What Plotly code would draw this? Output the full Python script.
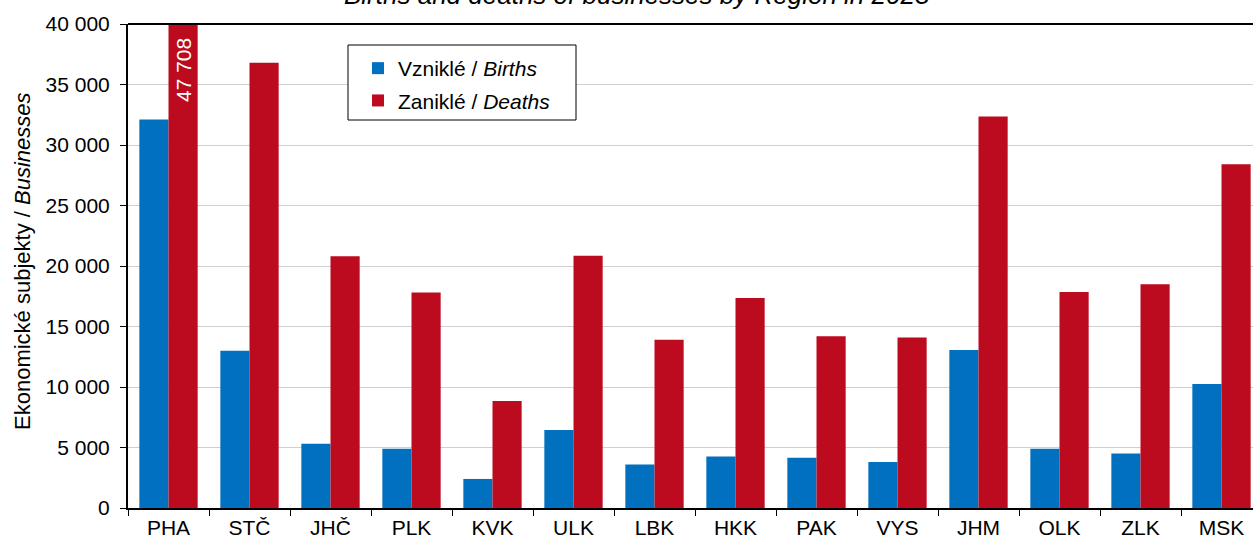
import plotly.graph_objects as go

regions = ["PHA", "STČ", "JHČ", "PLK", "KVK", "ULK", "LBK", "HKK", "PAK", "VYS", "JHM", "OLK", "ZLK", "MSK"]
births = [32100, 13000, 5300, 4900, 2400, 6450, 3600, 4250, 4150, 3800, 13050, 4900, 4500, 10250]
deaths = [47708, 36800, 20800, 17800, 8850, 20850, 13900, 17350, 14200, 14100, 32350, 17850, 18500, 28400]
y_ticks = [0, 5000, 10000, 15000, 20000, 25000, 30000, 35000, 40000]

FONT = "Liberation Sans, Arial, sans-serif"
BLUE = "#0070bf"
RED = "#bc0a1e"

fig = go.Figure()
fig.add_trace(go.Bar(x=regions, y=births, name="Vzniklé / <i>Births</i>", legendgroup="b",
                     marker=dict(color=BLUE, line=dict(width=0))))
fig.add_trace(go.Bar(x=regions, y=deaths, name="Zaniklé / <i>Deaths</i>", legendgroup="d",
                     marker=dict(color=RED, line=dict(width=0))))

W, H = 1253, 539
ml, mt, mb, mr = 128, 24, 31, 0
step = 81.0
plot_w = W - ml - mr
plot_h = H - mt - mb
x_max = -0.5 + plot_w / step


def px_x(px):
    return (px - ml) / plot_w


def px_y(py):
    return (H - mb - py) / plot_h


fig.update_layout(
    width=W, height=H,
    margin=dict(l=ml, r=mr, t=mt, b=mb, pad=0),
    paper_bgcolor="white", plot_bgcolor="white",
    barmode="group", bargap=0.28, bargroupgap=0,
    separators=", ",
    font=dict(family=FONT, size=21, color="#000"),
    showlegend=True,
    legend=dict(x=px_x(358), y=px_y(48), xanchor="left", yanchor="top",
                bgcolor="rgba(0,0,0,0)", borderwidth=0,
                font=dict(size=21, family=FONT), itemwidth=30,
                tracegroupgap=2),
)
fig.update_xaxes(
    type="category", range=[-0.5, x_max],
    showline=True, linecolor="#000", linewidth=2,
    ticks="outside", tickson="boundaries", ticklen=6, tickcolor="#000", tickwidth=1,
    showgrid=False, tickfont=dict(size=21, family=FONT), fixedrange=True,
)
fig.update_yaxes(
    range=[0, 40000], tickvals=y_ticks, tickformat=",d",
    showline=True, linecolor="#000", linewidth=2,
    ticks="outside", ticklen=6, tickcolor="#000", tickwidth=1,
    showgrid=True, gridcolor="#d0d0d0", gridwidth=1, zeroline=False,
    tickfont=dict(size=21, family=FONT), ticklabelstandoff=6, fixedrange=True,
)
# top frame line
fig.add_shape(type="line", xref="paper", yref="paper", x0=0, x1=1, y0=1, y1=1,
              line=dict(color="#000", width=2))
# legend box
fig.add_shape(type="rect", xref="paper", yref="paper",
              x0=px_x(348), x1=px_x(576), y0=px_y(120), y1=px_y(45),
              line=dict(color="#000", width=1), fillcolor="white", layer="above")

# y-axis title
fig.add_annotation(text="Ekonomické subjekty / <i>Businesses</i>", xref="paper", yref="paper",
                   x=0, y=0.5, xshift=-106, yshift=5, xanchor="center", yanchor="middle",
                   textangle=-90, showarrow=False, font=dict(size=22, family=FONT))
# clipped chart title
fig.add_annotation(text="<i>Births and deaths of businesses by Region in 2023</i>",
                   xref="paper", yref="paper", x=px_x(637), y=1,
                   yshift=12, yanchor="bottom", showarrow=False,
                   font=dict(size=26, family=FONT))
# value label for clipped PHA deaths bar
fig.add_annotation(text=f"{deaths[0]:,}".replace(",", " "), x=regions[0], y=40000,
                   xshift=14.5, yshift=-12, yanchor="top", textangle=-90,
                   showarrow=False, font=dict(size=21, family=FONT, color="white"))

fig.write_html("out.html", config={"displayModeBar": False},
               post_script="document.body.style.margin='0';document.body.style.overflow='hidden';")
